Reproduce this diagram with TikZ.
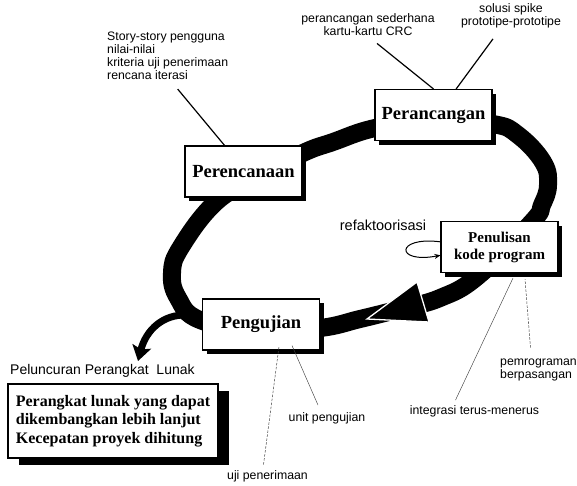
\documentclass[tikz,border=0pt]{standalone}
\usepackage{fontspec}
\setmainfont{Liberation Serif}
\setsansfont{Liberation Sans}
\usetikzlibrary{arrows.meta}
\usetikzlibrary{shadows}

\tikzset{
  box/.style={draw, line width=1.1pt, fill=white, inner sep=2pt},
  phase/.style={box, minimum width=117pt, minimum height=51pt,
    font=\bfseries\fontsize{18.5}{20}\selectfont,
    drop shadow={shadow xshift=4pt, shadow yshift=-4pt, fill=black, opacity=1}},
  outcome/.style={box, align=left, minimum width=210pt, minimum height=74pt, inner xsep=6pt,
    font=\bfseries\fontsize{16}{18.5}\selectfont,
    drop shadow={shadow xshift=11pt, shadow yshift=-7pt, fill=black, opacity=1}},
  note/.style={font=\sffamily\fontsize{12.3}{13}\selectfont, inner sep=1pt},
  leader/.style={line width=1.2pt},
  hairline/.style={line width=0.45pt, black!75},
  dotline/.style={line width=0.5pt, black!75, dash pattern=on 2.5pt off 1.5pt},
  band/.style={line width=18pt, line join=round},
}

\begin{document}
\begin{tikzpicture}[x=1pt,y=-1pt]
\useasboundingbox (0,0) rectangle (577,485);

% the iteration loop
\draw[band] plot[smooth cycle, tension=0.7] coordinates {(216,202) (181,247) (172,273) (178,298) (200,320)
  (260,331) (320,328) (360,319) (400,309) (440,298) (478,276) (532,222) (542,205) (548,185) (543,162)
  (518,135) (493,124) (434,119) (375,128) (333,142) (303,153) (258,177)};
\filldraw[white, fill=black, line width=1.3pt] (367,319) -- (417,282) -- (429,322) -- cycle;

% release branch
\coordinate (fork) at (187,315);
\coordinate (launch) at (138,361);
\draw[line width=7pt, -{Stealth[length=15pt, width=19pt, inset=3pt]}] (fork) .. controls (163,314) and (146,330) .. (launch);

% phases
\node[phase] (plan) at (243.5,171.5) {Perencanaan};
\node[phase] (design) at (433.5,115) {Perancangan};
\node[phase, align=center, font=\bfseries\fontsize{15}{17}\selectfont] (coding) at (499.5,247) {Penulisan\\kode program};
\node[phase] (test) at (261,324.5) {Pengujian};
\node[outcome] (release) at (113,421) {Perangkat lunak yang dapat\\dikembangkan lebih lanjut\\Kecepatan proyek dihitung};

% notes
\node[note, align=left, anchor=north west] (stories) at (106,30.5) {Story-story pengguna\\nilai-nilai\\kriteria uji penerimaan\\rencana iterasi};
\node[note, align=center, anchor=north] (simple) at (368,12) {perancangan sederhana\\kartu-kartu CRC};
\node[note, align=center, anchor=north] (spike) at (511,2) {solusi spike\\prototipe-prototipe};
\node[note, font=\sffamily\fontsize{14.5}{16}\selectfont] (refactor) at (383,225) {refaktoorisasi};
\node[note, font=\sffamily\fontsize{14}{16}\selectfont, anchor=west] (launchnote) at (9,371) {Peluncuran Perangkat\ \ Lunak};
\node[note] (accept) at (267.5,476.5) {uji penerimaan};
\node[note] (unit) at (327,418) {unit pengujian};
\node[note] (integ) at (474.5,411) {integrasi terus-menerus};
\node[note, align=left, anchor=west] (pair) at (499,370) {pemrograman\\berpasangan};

% connectors
\draw[leader] ([shift={(10pt,-8.5pt)}]stories.south) -- (plan.126);
\draw[leader] ([shift={(9pt,-7pt)}]simple.south) -- (design.north);
\draw[leader] ([shift={(-18pt,-10pt)}]spike.south) -- (design.49);
\draw[line width=1pt, -{Stealth[length=6pt, width=5pt]}] (coding.175) .. controls (395,236) and (395,264) .. (coding.188);
\draw[dotline] ([shift={(-4pt,5pt)}]accept.north) -- ([shift={(18pt,4pt)}]test.south);
\draw[hairline] ([shift={(-9pt,6pt)}]unit.north) -- ([shift={(31pt,5pt)}]test.south);
\draw[hairline] ([shift={(-19pt,4pt)}]integ.north) -- ([shift={(13.5pt,-5pt)}]coding.south);
\draw[dotline] ([shift={(-8pt,10pt)}]pair.north) -- ([shift={(25.5pt,-6pt)}]coding.south);
\end{tikzpicture}
\end{document}
